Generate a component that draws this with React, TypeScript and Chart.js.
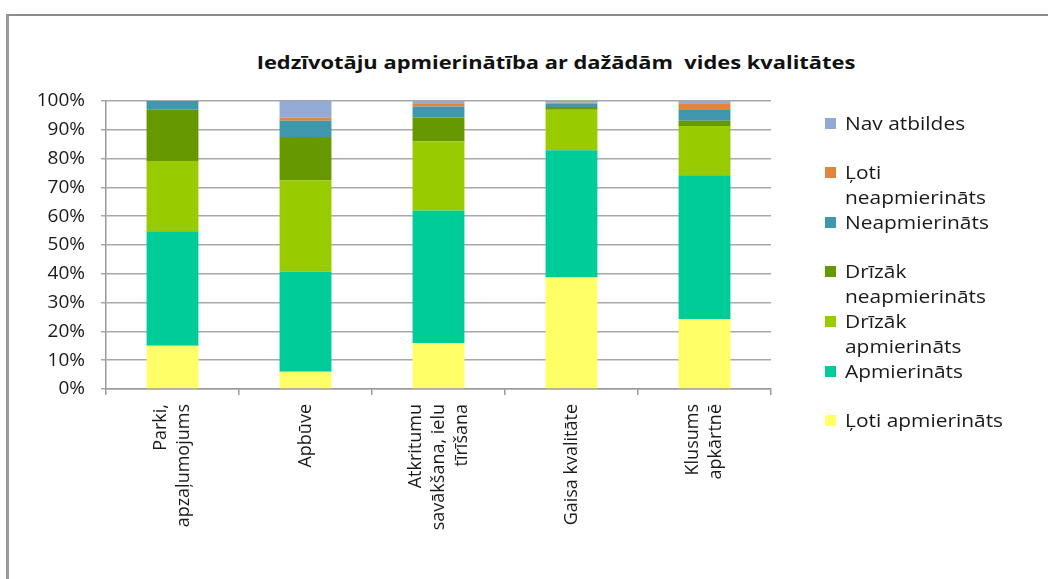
import React, { useEffect, useRef } from "react";
import { Chart, registerables } from "chart.js";
Chart.register(...registerables);

const titleText = "Iedzīvotāju apmierinātība ar dažādām  vides kvalitātes";
const categories = [
  ["Parki,", "apzaļumojums"],
  ["Apbūve"],
  ["Atkritumu", "savākšana, ielu", "tīrīšana"],
  ["Gaisa kvalitāte"],
  ["Klusums", "apkārtnē"],
];
const seriesNames = [
  "Ļoti apmierināts",
  "Apmierināts",
  "Drīzāk apmierināts",
  "Drīzāk neapmierināts",
  "Neapmierināts",
  "Ļoti neapmierināts",
  "Nav atbildes",
];
const lotiApmierinats = [15, 6, 16, 38.7, 24.3];
const apmierinats = [39.8, 34.7, 46, 44.2, 49.9];
const drizakApmierinats = [24.4, 31.8, 23.9, 14.1, 17.1];
const drizakNeapmierinats = [17.8, 15, 8.4, 0.9, 1.8];
const neapmierinats = [3, 5.6, 3.8, 1.2, 3.8];
const lotiNeapmierinats = [0, 1.1, 1.1, 0.3, 2.3];
const navAtbildes = [0, 5.8, 0.9, 0.6, 0.8];
const seriesValues = [
  lotiApmierinats,
  apmierinats,
  drizakApmierinats,
  drizakNeapmierinats,
  neapmierinats,
  lotiNeapmierinats,
  navAtbildes,
];
const seriesColors = ["#FFFF66", "#00CC99", "#99CC00", "#669900", "#3F98AC", "#E0843E", "#94AAD6"];
const yTicks = [0, 10, 20, 30, 40, 50, 60, 70, 80, 90, 100];

const FONT = "'Open Sans'";

const centerMultiline = {
  id: "centerMultiline",
  beforeDraw(chart: any) {
    const sc = chart.scales.x;
    if (!sc) return;
    const items = sc.getLabelItems(chart.chartArea);
    items.forEach((it: any) => {
      const n = Array.isArray(it.label) ? it.label.length : 1;
      const lh = it.font && it.font.lineHeight ? it.font.lineHeight : 23;
      if (!it._centered) {
        it.textOffset = lh / 2 - ((n - 1) * lh) / 2;
        it._centered = true;
      }
    });
  },
};

export default function App() {
  const ref = useRef<HTMLCanvasElement | null>(null);
  useEffect(() => {
    if (!ref.current) return;
    const chart = new Chart(ref.current, {
      type: "bar",
      data: {
        labels: categories as any,
        datasets: seriesNames.map((name, i) => ({
          label: name,
          data: seriesValues[i],
          backgroundColor: seriesColors[i],
          borderWidth: 0,
          barPercentage: 0.39,
          categoryPercentage: 1,
        })),
      },
      plugins: [centerMultiline],
      options: {
        responsive: false,
        animation: false,
        layout: { padding: { left: 20, right: 277, top: 101, bottom: 0 } },
        plugins: { legend: { display: false }, title: { display: false }, tooltip: { enabled: false } },
        scales: {
          x: {
            stacked: true,
            grid: { offset: true, drawOnChartArea: false, drawTicks: true, tickLength: 6, color: "#9a9a9a", lineWidth: 1.5 },
            border: { display: true, color: "#9a9a9a", width: 1.5 },
            ticks: {
              autoSkip: false,
              maxRotation: 90,
              minRotation: 90,
              padding: 9,
              color: "#1a1a1a",
              font: { family: FONT, size: 18, lineHeight: "23px" },
            },
            afterFit: (s: any) => {
              s.height = 190;
            },
          },
          y: {
            stacked: true,
            min: 0,
            max: 100,
            afterBuildTicks: (s: any) => {
              s.ticks = yTicks.map((v) => ({ value: v }));
            },
            grid: { color: "#a8a8a8", lineWidth: 1.5, tickLength: 5 },
            border: { display: true, color: "#9a9a9a", width: 1.5 },
            ticks: {
              padding: 16,
              color: "#1a1a1a",
              font: { family: FONT, size: 19 },
              callback: (v: any) => v + "%",
            },
            afterFit: (s: any) => {
              s.width = 86;
            },
          },
        },
      },
    });
    return () => chart.destroy();
  }, []);

  const legendOrder = seriesNames.map((_, i) => i).reverse();

  return (
    <div style={{ position: "fixed", left: 0, top: 0, width: 1048, height: 579, overflow: "hidden", background: "#fff", fontFamily: FONT }}>
      <div
        style={{
          position: "absolute",
          left: 6,
          top: 14,
          right: -10,
          bottom: -10,
          borderLeft: "3px solid #9a9a9a",
          borderTop: "2px solid #8c8c8c",
        }}
      />
      <div
        style={{
          position: "absolute",
          left: 556,
          top: 50,
          transform: "translateX(-50%) scaleX(1.25)",
          whiteSpace: "pre",
          fontWeight: 700,
          fontSize: 17.5,
          lineHeight: "24px",
          color: "#111",
        }}
      >
        {titleText}
      </div>
      <canvas ref={ref} width={1048} height={579} style={{ position: "absolute", left: 0, top: 0 }} />
      {legendOrder.map((idx, k) => {
        const cy = 123 + k * 49.6;
        return (
          <div key={idx} style={{ position: "absolute", left: 825, top: cy - 12.5, width: 220 }}>
            <div
              style={{
                position: "absolute",
                left: 0,
                top: 7,
                width: 11,
                height: 11,
                background: seriesColors[idx],
              }}
            />
            <div
              style={{
                position: "absolute",
                left: 20,
                top: 0,
                width: 150,
                fontSize: 19,
                lineHeight: "25px",
                color: "#1a1a1a",
                transform: "scaleX(1.1)",
                transformOrigin: "0 0",
              }}
            >
              {seriesNames[idx]}
            </div>
          </div>
        );
      })}
    </div>
  );
}
